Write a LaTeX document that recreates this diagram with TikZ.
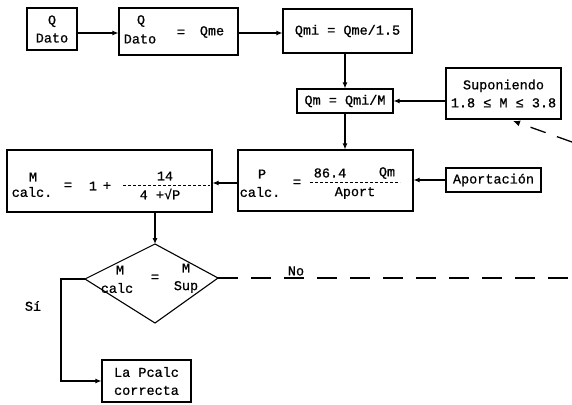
\documentclass[tikz,border=0pt]{standalone}
\usepackage{fontspec}
\newfontfamily\tw[FakeBold=0.8]{Liberation Mono}
\usetikzlibrary{arrows.meta}
\begin{document}
\begin{tikzpicture}[x=1pt,y=-1pt,
  box/.style={draw, line width=1.1pt, inner sep=0pt, align=center, font=\tw\fontsize{13.5}{18}\selectfont},
  txt/.style={inner sep=0pt, font=\tw\fontsize{13.5}{17}\selectfont},
  conn/.style={line width=1.1pt, -{Latex[length=6pt,width=5pt]}},
  plainline/.style={line width=1.1pt},
  dashline/.style={line width=1.3pt, dash pattern=on 20pt off 13pt},
  fracline/.style={line width=0.8pt, dash pattern=on 3pt off 2pt}]
\useasboundingbox (0,0) rectangle (572,404);
% boxes
\node[box, minimum width=50pt, minimum height=42pt] (b1) at (52,29) {Q\\Dato};
\node[box, minimum width=119pt, minimum height=47pt] (b2) at (178.5,31.5) {};
\node[box, minimum width=129pt, minimum height=44pt] (b3) at (347.5,31) {Qmi = Qme/1.5};
\node[box, minimum width=96pt, minimum height=24pt] (b4) at (345,101) {Qm = Qmi/M};
\node[box, minimum width=115pt, minimum height=51pt] (sup) at (503.5,93.5) {Suponiendo\\1.8 ≤ M ≤ 3.8};
\node[box, minimum width=175pt, minimum height=61pt] (b5) at (325.5,180.5) {};
\node[box, minimum width=95pt, minimum height=24pt] (apo) at (493.5,180) {Aportación};
\node[box, minimum width=205pt, minimum height=62pt] (b6) at (109.5,181) {};
\node[box, minimum width=89pt, minimum height=42pt] (b7) at (146.5,381) {La Pcalc\\correcta};
% texts in box 2
\node[txt] (t2a) at (141,21) {Q};
\node[txt] (t2b) at (140,39) {Dato};
\node[txt] (t2c) at (181,33) {=};
\node[txt] (t2d) at (212,32) {Qme};
% texts in box 5
\node[txt] (t5a) at (262,174) {P};
\node[txt] (t5b) at (260,192) {calc.};
\node[txt] (t5c) at (297,183) {=};
\node[txt] (t5d) at (330,173) {86.4};
\node[txt] (t5e) at (387,173) {Qm};
\node[txt] (t5f) at (355,193) {Aport};
\coordinate (f5a) at (310,182);
\coordinate (f5b) at (400,182);
\draw[fracline] (f5a) -- (f5b);
% texts in box 6
\node[txt] (t6a) at (33,177) {M};
\node[txt] (t6b) at (32,192) {calc.};
\node[txt] (t6c) at (68,186) {=};
\node[txt] (t6d) at (93,186) {1};
\node[txt] (t6e) at (107,186) {+};
\node[txt] (t6f) at (165,176) {14};
\node[txt] (t6g) at (160,194) {4 +√P};
\coordinate (f6a) at (123,185);
\coordinate (f6b) at (210,185);
\draw[fracline] (f6a) -- (f6b);
% diamond
\coordinate (dt) at (155,244);
\coordinate (dr) at (218,278);
\coordinate (db) at (155,323);
\coordinate (dl) at (85,279);
\draw[plainline, line join=miter] (dt) -- (dr) -- (db) -- (dl) -- cycle;
\node[txt] (td1) at (120,270) {M};
\node[txt] (td2) at (117,288) {calc};
\node[txt] (td3) at (155,278) {=};
\node[txt] (td4) at (186,268) {M};
\node[txt] (td5) at (186,287) {Sup};
% labels
\node[txt] (no) at (296,271) {No};
\node[txt] (si) at (33,306) {Sí};
% connectors
\draw[conn] ([yshift=-4pt]b1.east) -- ([yshift=-4pt]b1.east -| b2.west);
\draw[conn] ([yshift=-1.5pt]b2.east) -- ([yshift=-1.5pt]b2.east -| b3.west);
\draw[conn] (b4.north |- b3.south) -- (b4.north);
\draw[conn] (sup.west |- b4.east) -- (b4.east);
\draw[conn] (b4.south) -- (b4.south |- b5.north);
\draw[conn] (apo.west) -- (apo.west -| b5.east);
\draw[conn] ([yshift=-2.5pt]b5.west) -- ([yshift=-2.5pt]b5.west -| b6.east);
\draw[conn] (dt |- b6.south) -- (dt);
\coordinate (sicorner) at (61,279);
\draw[conn] (dl) -- (sicorner) |- (b7.west);
\coordinate (noend) at (572,278);
\draw[dashline] (dr) -- (noend);
\coordinate (dstart) at (572,142);
\coordinate (dtip) at (513,121);
\draw[line width=1.3pt, dash pattern=on 16pt off 12pt, -{Latex[length=7pt,width=6pt]}] (dstart) -- (dtip);
\end{tikzpicture}
\end{document}
